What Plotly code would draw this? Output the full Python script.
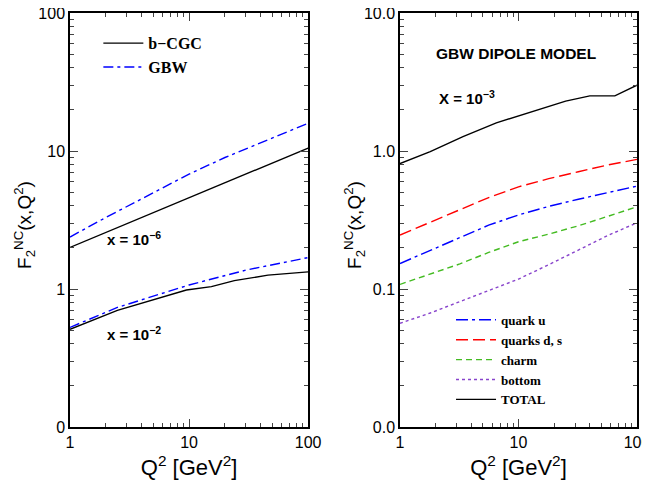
import plotly.graph_objects as go

# ---- Left panel data (x = 1e-6 and x = 1e-2) ----
q2_l6 = [1, 2, 5, 10, 20, 50, 100]
bcgc_l6 = [2.0, 2.57, 3.57, 4.6, 5.88, 8.15, 10.5]
q2_g6 = [1, 2, 4, 10, 20, 50, 100]
gbw_l6 = [2.38, 3.3, 4.5, 6.8, 8.97, 12.5, 15.9]

q2_l2 = [1, 2.5, 9.5, 15.4, 24, 46, 100]
bcgc_l2 = [0.51, 0.70, 0.984, 1.04, 1.15, 1.26, 1.33]
q2_g2 = [1, 2.5, 10, 30, 100]
gbw_l2 = [0.527, 0.735, 1.07, 1.37, 1.69]

# ---- Right panel data (x = 1e-3, GBW dipole model) ----
q2_r = [1, 1.8, 3.4, 6.5, 25, 40, 65, 100]
total = [0.81, 0.99, 1.27, 1.6, 2.3, 2.51, 2.51, 3.0]
q2_c = [1, 1.8, 3.2, 5.6, 10, 18, 32, 56, 100]
quark_u = [0.153, 0.19, 0.233, 0.29, 0.344, 0.397, 0.447, 0.50, 0.557]
quark_ds = [0.246, 0.305, 0.373, 0.46, 0.55, 0.63, 0.708, 0.79, 0.87]
charm = [0.108, 0.128, 0.152, 0.184, 0.22, 0.25, 0.287, 0.335, 0.394]
bottom = [0.0564, 0.067, 0.081, 0.097, 0.118, 0.15, 0.192, 0.243, 0.302]

left_yvals = [0.1, 1, 10, 100]
left_ytext = ["0", "1", "10", "100"]
right_yvals = [0.01, 0.1, 1, 10]
right_ytext = ["0.0", "0.1", "1.0", "10.0"]
xvals = [1, 10, 100]
xtext = ["1", "10", "100"]

SANS = "Liberation Sans, Arial, sans-serif"
SERIF = "Liberation Serif, Times New Roman, serif"

fig = go.Figure()
lw = 1.4
DD = "10px,4px,3px,4px"
fig.add_trace(go.Scatter(x=q2_l6, y=bcgc_l6, mode="lines", line=dict(color="black", width=lw),
                         name="<b>b−CGC</b>", legend="legend", xaxis="x", yaxis="y"))
fig.add_trace(go.Scatter(x=q2_g6, y=gbw_l6, mode="lines", line=dict(color="blue", width=lw, dash=DD),
                         name="<b>GBW</b>", legend="legend", xaxis="x", yaxis="y"))
fig.add_trace(go.Scatter(x=q2_l2, y=bcgc_l2, mode="lines", line=dict(color="black", width=lw),
                         showlegend=False, xaxis="x", yaxis="y"))
fig.add_trace(go.Scatter(x=q2_g2, y=gbw_l2, mode="lines", line=dict(color="blue", width=lw, dash=DD),
                         showlegend=False, xaxis="x", yaxis="y"))

fig.add_trace(go.Scatter(x=q2_c, y=quark_u, mode="lines", line=dict(color="blue", width=lw, dash="12px,4px,3px,4px"),
                         name="<b>quark u</b>", legend="legend2", xaxis="x2", yaxis="y2"))
fig.add_trace(go.Scatter(x=q2_c, y=quark_ds, mode="lines", line=dict(color="red", width=lw, dash="12px,5px"),
                         name="<b>quarks d, s</b>", legend="legend2", xaxis="x2", yaxis="y2"))
fig.add_trace(go.Scatter(x=q2_c, y=charm, mode="lines", line=dict(color="#44bb22", width=lw, dash="6px,4px"),
                         name="<b>charm</b>", legend="legend2", xaxis="x2", yaxis="y2"))
fig.add_trace(go.Scatter(x=q2_c, y=bottom, mode="lines", line=dict(color="#8844cc", width=lw, dash="dot"),
                         name="<b>bottom</b>", legend="legend2", xaxis="x2", yaxis="y2"))
fig.add_trace(go.Scatter(x=q2_r, y=total, mode="lines", line=dict(color="black", width=lw),
                         name="<b>TOTAL</b>", legend="legend2", xaxis="x2", yaxis="y2"))

minor_x = [i * 10 ** d for d in range(0, 2) for i in range(2, 10)]
minor_yl = [i * 10 ** d for d in range(-1, 2) for i in range(2, 10)]
minor_yr = [i * 10 ** d for d in range(-2, 1) for i in range(2, 10)]

def xax(domain, anchor):
    return dict(type="log", range=[0, 2], domain=domain, anchor=anchor, automargin=False,
                tickvals=xvals, ticktext=xtext, ticks="inside", ticklen=8, tickwidth=1.2,
                ticklabeloverflow="allow",
                minor=dict(tickvals=minor_x, ticks="inside", ticklen=4, tickwidth=1),
                showline=True, linecolor="black", linewidth=1.5, mirror="allticks",
                showgrid=False, zeroline=False, tickfont=dict(family=SANS, size=16, color="black"),
                title=dict(text="Q<sup>2</sup> [GeV<sup>2</sup>]", font=dict(family=SANS, size=22, color="black"), standoff=10))

def yax(rng, vals, text, minor, anchor):
    return dict(type="log", range=rng, domain=[0, 1], anchor=anchor, automargin=False,
                tickvals=vals, ticktext=text, ticks="inside", ticklen=8, tickwidth=1.2,
                ticklabeloverflow="allow",
                minor=dict(tickvals=minor, ticks="inside", ticklen=4, tickwidth=1),
                showline=True, linecolor="black", linewidth=1.5, mirror="allticks",
                showgrid=False, zeroline=False, tickfont=dict(family=SANS, size=16, color="black"))

ytitle = "F<sub>2</sub><sup>NC</sup>(x,Q<sup>2</sup>)"

fig.update_layout(
    width=642, height=479, plot_bgcolor="white", paper_bgcolor="white",
    margin=dict(l=62, r=13, t=5, b=60),
    xaxis=xax([0, 0.42], "y"),
    yaxis=yax([-1, 2], left_yvals, left_ytext, minor_yl, "x"),
    xaxis2=xax([0.582, 1], "y2"),
    yaxis2=yax([-2, 1], right_yvals, right_ytext, minor_yr, "x2"),
    legend=dict(x=0.05, y=0.968, xanchor="left", yanchor="top", bgcolor="rgba(0,0,0,0)",
                font=dict(family=SERIF, size=16, color="black"), tracegroupgap=0, itemwidth=40),
    legend2=dict(x=0.672, y=0.295, xanchor="left", yanchor="top", bgcolor="rgba(0,0,0,0)",
                 font=dict(family=SERIF, size=13, color="black"), tracegroupgap=0, itemwidth=40),
    showlegend=True,
    annotations=[
        dict(text=ytitle, x=-0.0794, y=0.488, xref="paper", yref="paper", textangle=-90,
             xanchor="center", yanchor="middle", showarrow=False, font=dict(family=SANS, size=19, color="black")),
        dict(text=ytitle, x=0.5026, y=0.488, xref="paper", yref="paper", textangle=-90,
             xanchor="center", yanchor="middle", showarrow=False, font=dict(family=SANS, size=19, color="black")),
        dict(text="<b>x = 10<sup>−6</sup></b>", x=0.294, y=0.365, xref="x", yref="y", xanchor="left", yanchor="middle",
             showarrow=False, font=dict(family=SANS, size=15, color="black")),
        dict(text="<b>x = 10<sup>−2</sup></b>", x=0.294, y=-0.32, xref="x", yref="y", xanchor="left", yanchor="middle",
             showarrow=False, font=dict(family=SANS, size=15, color="black")),
        dict(text="<b>GBW DIPOLE MODEL</b>", x=0.98, y=0.71, xref="x2", yref="y2", xanchor="center", yanchor="middle",
             showarrow=False, font=dict(family=SANS, size=15.5, color="black")),
        dict(text="<b>X = 10<sup>−3</sup></b>", x=0.31, y=0.39, xref="x2", yref="y2", xanchor="left", yanchor="middle",
             showarrow=False, font=dict(family=SANS, size=15, color="black")),
    ],
)

fig.write_html("out.html")
